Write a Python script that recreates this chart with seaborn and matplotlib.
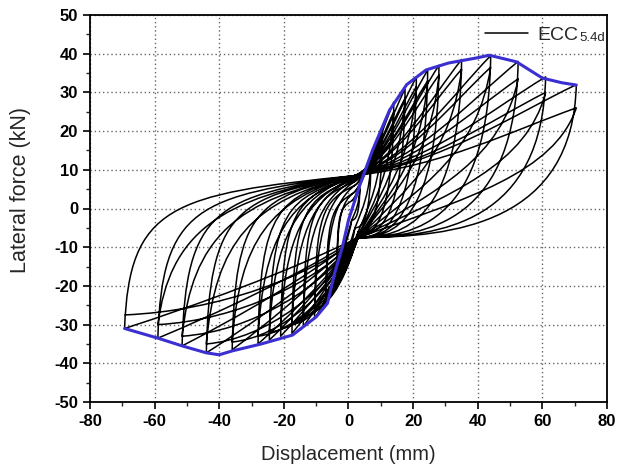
import matplotlib
matplotlib.use("Agg")
import matplotlib.pyplot as plt
from matplotlib.path import Path
from matplotlib.patches import PathPatch
from matplotlib.lines import Line2D
from matplotlib.ticker import MultipleLocator
import seaborn as sns
import pandas as pd

# ---- data ----
# loading levels (mm) and peak forces (kN) for the 1st and 2nd cycle
disp_pos = [3.5, 7, 10.5, 14, 17.5, 21, 24.5, 28, 35, 44, 52.5, 61, 70.5]
force_pos_1 = [6, 14, 21, 27.5, 31, 34, 35.8, 37, 38.5, 39.5, 38, 34, 32]
force_pos_2 = [5, 12.5, 19, 25, 28.5, 31.5, 33, 34.5, 36, 36.5, 33.5, 30, 26]
disp_neg = [-3.5, -7, -10.5, -14, -17.5, -21, -24.5, -28, -36, -44, -51.5, -59, -69.3]
force_neg_1 = [-14, -25, -28.5, -30.5, -32.3, -33, -34, -35, -36.5, -37.3, -35.5, -33.5, -31]
force_neg_2 = [-12, -22, -26, -28, -30, -31, -32, -33, -34.5, -35, -33, -30, -27.5]
# pinching points (end of the slip branch) per level
pinch_up_x = [1, 1.5, 2, 2, 2, 2, 2, 2, 2, 2, 2, 2, 2]
pinch_up_y = [2, 4, 6, 7, 7.5, 8, 8, 8.5, 8.5, 8.5, 8.5, 8.5, 8.5]
pinch_lo_x = [1, 2, 3, 3, 3, 3, 3, 3, 3, 3, 3, 3, 3]
pinch_lo_y = [-3, -5, -6, -7, -7, -7.5, -7.5, -7.5, -7.5, -7.5, -7.5, -7.5, -7.5]

# skeleton (envelope) curve
env_x = [-69.3, -59, -51.5, -44, -40, -36, -27, -17.3, -10, -6.5, -4.3, -1.9, 0,
         3.5, 7.4, 12.7, 18, 24, 31, 39.6, 43.6, 52, 60, 66, 70.5]
env_y = [-31, -33.5, -35.5, -37.3, -37.8, -36.8, -35, -32.7, -28, -24.5, -16.7, -10, -3,
         6, 15, 25.4, 32, 35.8, 37.6, 38.9, 39.6, 37.9, 33.7, 32.5, 31.9]

sns.set_style("ticks")
plt.rcParams["font.family"] = ["Liberation Sans", "DejaVu Sans"]
plt.rcParams["axes.unicode_minus"] = False

fig = plt.figure(figsize=(6.3, 4.71), dpi=100)
ax = fig.add_axes([90 / 630, 1 - 402 / 471, (607 - 90) / 630, (402 - 15) / 471])


def seg_load(p0, p1, a1, b1, a2, b2):
    (x0, y0), (x1, y1) = p0, p1
    span, h = x1 - x0, y1 - y0
    return [(x0 + a1 * span, y0 + b1 * h), (x1 - a2 * span, y1 - b2 * h), (x1, y1)]


def seg_unload_pos(p0, p1, second):
    (x0, y0), (x1, y1) = p0, p1
    span, dy = x0 - x1, y0 - y1
    if second:
        return [(x0 - 0.1 * span, y0 - 0.5 * dy), (x0 - 0.5 * span, y1 + 0.3 * dy), (x1, y1)]
    return [(x0 - 0.015 * span, y0 - 0.9 * dy), (x0 - 0.55 * span, y1), (x1, y1)]


def seg_unload_neg(p0, p1, second):
    (x0, y0), (x1, y1) = p0, p1
    span, dy = x1 - x0, y1 - y0
    if second:
        return [(x0 + 0.06 * span, y0 + 0.6 * dy), (x0 + 0.3 * span, y1 - 0.14 * dy), (x1, y1)]
    return [(x0 + 0.02 * span, y0 + 0.8 * dy), (x0 + 0.2 * span, y1 - 0.12 * dy), (x1, y1)]


verts = [(pinch_up_x[0], pinch_up_y[0])]
codes = [Path.MOVETO]
cur = None
second_prev = False
for k in range(len(disp_pos)):
    pu = (pinch_up_x[k], pinch_up_y[k])
    pl = (pinch_lo_x[k], pinch_lo_y[k])
    for c, (fp, fn) in enumerate(((force_pos_1[k], force_neg_1[k]),
                                  (force_pos_2[k], force_neg_2[k]))):
        P = (disp_pos[k], fp)
        N = (disp_neg[k], fn)
        if cur is not None:
            verts += seg_unload_neg(cur, pu, second_prev)
            codes += [Path.CURVE4] * 3
        # positive reloading from the upper pinch (slightly sagging)
        verts += seg_load(pu, P, 0.4, 0.15, 0.3, 0.35)
        codes += [Path.CURVE4] * 3
        verts += seg_unload_pos(P, pl, c == 1)
        codes += [Path.CURVE4] * 3
        # negative loading from the lower pinch (straight / bulging outward)
        if c == 0:
            verts += seg_load(pl, N, 0.3, 0.38, 0.3, 0.25)
        else:
            verts += seg_load(pl, N, 0.2, 0.5, 0.4, 0.05)
        codes += [Path.CURVE4] * 3
        cur = N
        second_prev = c == 1

patch = PathPatch(Path(verts, codes), fill=False, edgecolor="black", lw=1.1,
                  joinstyle="round", zorder=3)
ax.add_patch(patch)

env = pd.DataFrame({"disp": env_x, "force": env_y})
sns.lineplot(data=env, x="disp", y="force", sort=False, color="#3b2fd2", lw=2.2,
             ax=ax, zorder=4, legend=False)

ax.set_xlim(-80, 80)
ax.set_ylim(-50, 50)
ax.xaxis.set_major_locator(MultipleLocator(20))
ax.xaxis.set_minor_locator(MultipleLocator(10))
ax.yaxis.set_major_locator(MultipleLocator(10))
ax.yaxis.set_minor_locator(MultipleLocator(5))
ax.grid(True, which="major", linestyle=(0, (1, 2)), color="#666666", lw=1.0)
ax.tick_params(which="major", direction="out", length=5, width=1.2, labelsize=12, colors="black")
ax.tick_params(which="minor", direction="out", length=3, width=1.0)
for lbl in ax.get_xticklabels() + ax.get_yticklabels():
    lbl.set_fontweight("bold")
for s in ax.spines.values():
    s.set_linewidth(1.3)
    s.set_color("black")

ax.set_xlabel("Displacement (mm)", fontsize=14.5)
ax.xaxis.set_label_coords(0.5, (402 - 445) / 387)
ax.set_ylabel("Lateral force (kN)", fontsize=15.5)
ax.yaxis.set_label_coords((31 - 90) / 517, (402 - 190) / 387)

h = Line2D([], [], color="black", lw=1.1)
leg = ax.legend(handles=[h], labels=["ECC"], loc="center left",
                bbox_to_anchor=((485 - 90) / 517, (402 - 35) / 387), frameon=False,
                handlelength=2.2, handletextpad=0.5, borderpad=0, borderaxespad=0, fontsize=14)
fig.canvas.draw()
bb = leg.get_texts()[0].get_window_extent()
ax.annotate("5.4d", xy=(bb.x1, bb.y0), xycoords="figure pixels", xytext=(1, 0),
            textcoords="offset points", fontsize=9.5, ha="left", va="bottom")

fig.savefig("out.png", dpi=100)
